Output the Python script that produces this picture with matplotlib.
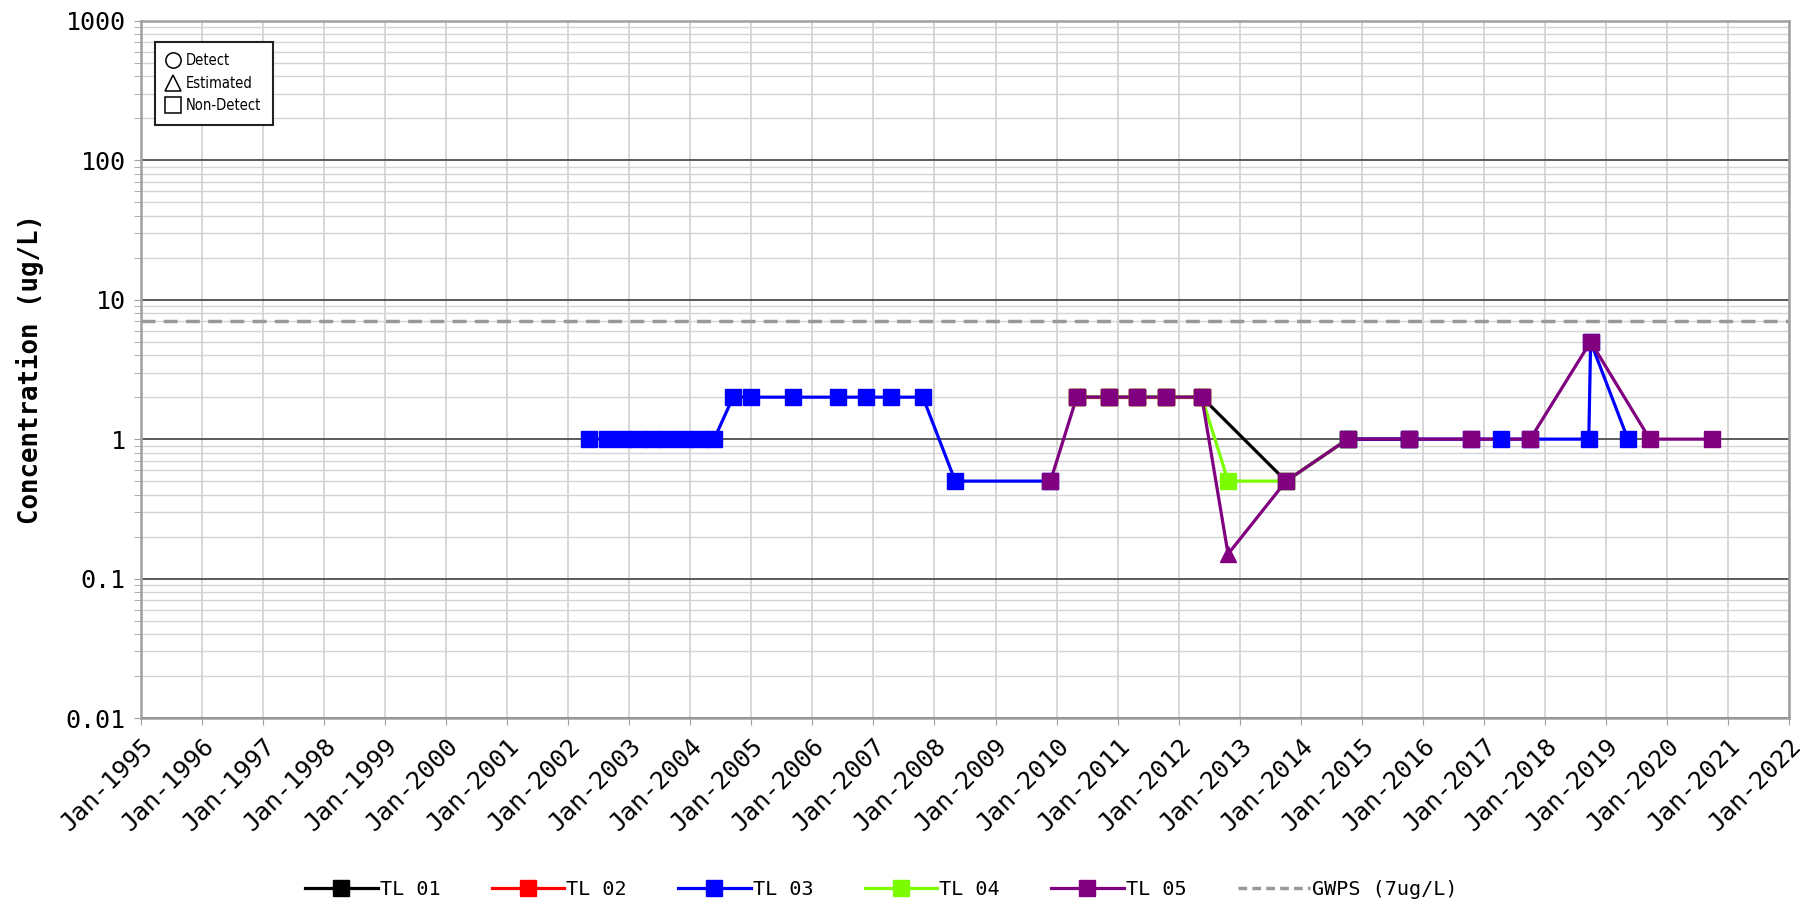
import numpy as np
import matplotlib
matplotlib.use("Agg")
import matplotlib.pyplot as plt
from matplotlib.lines import Line2D
from matplotlib.ticker import FixedLocator, LogLocator, NullFormatter

# sample dates (decimal years) and concentrations (ug/L) per well
tl01_t = [2010.33, 2010.86, 2011.32, 2011.79, 2012.38, 2013.76, 2014.77, 2015.77]
tl01_v = [2, 2, 2, 2, 2, 0.5, 1, 1]

tl02_t = [2010.33, 2010.86, 2011.32, 2011.79, 2012.38]
tl02_v = [2, 2, 2, 2, 2]

tl03_t = [2002.34, 2002.64, 2002.89, 2003.14, 2003.39, 2003.64, 2003.89, 2004.14, 2004.39,
          2004.70, 2004.99, 2005.68, 2006.42, 2006.88, 2007.29, 2007.81, 2008.34, 2009.90,
          np.nan,
          2014.77, 2015.77, 2016.79, 2017.28, 2017.76, 2018.72, 2018.75, 2019.36]
tl03_v = [1, 1, 1, 1, 1, 1, 1, 1, 1,
          2, 2, 2, 2, 2, 2, 2, 0.5, 0.5,
          np.nan,
          1, 1, 1, 1, 1, 1, 5, 1]

tl04_t = [2010.33, 2010.86, 2011.32, 2011.79, 2012.38, 2012.81, 2013.76, 2014.77]
tl04_v = [2, 2, 2, 2, 2, 0.5, 0.5, 1]

tl05_t = [2009.90, 2010.33, 2010.86, 2011.32, 2011.79, 2012.38, 2012.81, 2013.76,
          2014.77, 2015.77, 2016.79, 2017.76, 2018.75, 2019.72, 2020.74]
tl05_v = [0.5, 2, 2, 2, 2, 2, 0.15, 0.5, 1, 1, 1, 1, 5, 1, 1]
tl05_q = ["N", "N", "N", "N", "N", "N", "E", "N", "N", "N", "N", "N", "N", "N", "N"]

series_names = ["TL 01", "TL 02", "TL 03", "TL 04", "TL 05"]
series_colors = ["#000000", "#ff0000", "#0000ff", "#7cfc00", "#800080"]
gwps = 7
years = list(range(1995, 2023))
y_ticks = [0.01, 0.1, 1, 10, 100, 1000]
y_labels = ["0.01", "0.1", "1", "10", "100", "1000"]

mono = ["DejaVu Sans Mono"]

fig = plt.figure(figsize=(18.1, 9.05), dpi=100)
ax = fig.add_axes([0.0779, 0.2066, 0.9105, 0.7704])
ax.set_yscale("log")
ax.set_xlim(1995, 2022)
ax.set_ylim(0.01, 1000)

# grid: light years / minor decades, dark decade lines
ax.set_xticks(years)
ax.yaxis.set_major_locator(FixedLocator(y_ticks))
ax.yaxis.set_minor_locator(LogLocator(base=10, subs=np.arange(2, 10)))
ax.yaxis.set_minor_formatter(NullFormatter())
ax.grid(axis="x", color="#d4d4d4", lw=1.3)
ax.grid(axis="y", which="minor", color="#d4d4d4", lw=1.0)
ax.grid(axis="y", which="major", color="#404040", lw=1.2)
ax.set_axisbelow(True)
for s in ax.spines.values():
    s.set_color("#a0a0a0")
    s.set_linewidth(1.8)

ax.set_yticklabels(y_labels, family=mono, fontsize=18)
ax.set_xticklabels([f"Jan-{y}" for y in years], family=mono, fontsize=18,
                   rotation=45, ha="right", rotation_mode="anchor")
ax.tick_params(axis="both", which="both", length=5, color="#a0a0a0", pad=6)
ax.set_ylabel("Concentration (ug/L)", family=mono, fontsize=18.5, fontweight="bold")
ax.yaxis.set_label_coords(-0.059, 0.5)

ax.axhline(gwps, color="#999999", lw=2.5, ls=(0, (4, 2.4)), zorder=2)

data = [(tl01_t, tl01_v, None), (tl02_t, tl02_v, None), (tl03_t, tl03_v, None),
        (tl04_t, tl04_v, None), (tl05_t, tl05_v, tl05_q)]
for (t, v, q), name, c in zip(data, series_names, series_colors):
    t = np.array(t, dtype=float)
    v = np.array(v, dtype=float)
    ax.plot(t, v, color=c, lw=2.3, zorder=3)
    q = np.array(q if q is not None else ["N"] * len(t))
    nd = q == "N"
    ax.plot(t[nd], v[nd], ls="none", marker="s", ms=12, color=c, zorder=4)
    est = q == "E"
    ax.plot(t[est], v[est], ls="none", marker="^", ms=12, color=c, zorder=4)

# symbol key in the upper left corner
key = [Line2D([], [], ls="none", marker="o", ms=11, mfc="white", mec="black", mew=1.1),
       Line2D([], [], ls="none", marker="^", ms=11, mfc="white", mec="black", mew=1.1),
       Line2D([], [], ls="none", marker="s", ms=11, mfc="white", mec="black", mew=1.1)]
leg1 = ax.legend(key, ["Detect", "Estimated", "Non-Detect"], loc="upper left",
                 bbox_to_anchor=(0.0085, 0.970), borderaxespad=0, fancybox=False,
                 edgecolor="#222222",
                 prop={"family": ["Liberation Sans Narrow", "DejaVu Sans"],
                       "size": 10.5, "stretch": "condensed"},
                 handlelength=0.9, handletextpad=0.4, labelspacing=0.5,
                 borderpad=0.8, framealpha=1)
leg1.get_frame().set_linewidth(1.5)

handles = [Line2D([], [], color=c, lw=2.3, marker="s", ms=12) for c in series_colors]
handles.append(Line2D([], [], color="#999999", lw=2.5, ls=(0, (2.5, 1.5))))
labels = series_names + [f"GWPS ({gwps}ug/L)"]
fig.legend(handles, labels, loc="center", bbox_to_anchor=(0.487, 0.017), ncol=6,
           frameon=False, prop={"family": mono, "size": 14.5}, handlelength=3.6,
           handletextpad=0.1, columnspacing=2.55)

fig.savefig("out.png", dpi=100)
